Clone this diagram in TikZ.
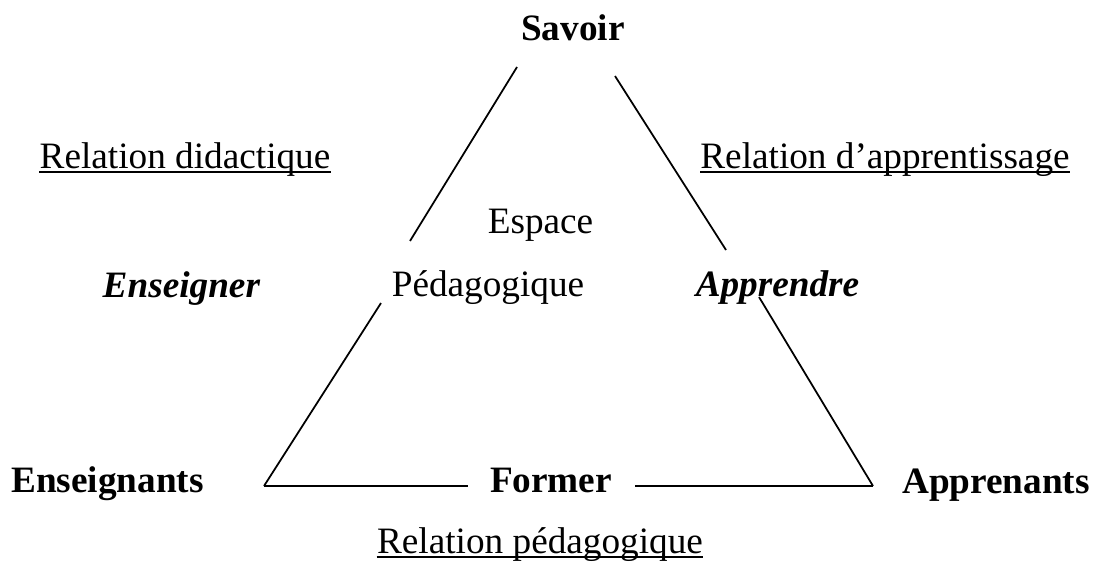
\documentclass[tikz,border=0pt]{standalone}
\usepackage{fontspec}
\setmainfont{Liberation Serif}
\usepackage{tikz}
\usetikzlibrary{calc}
\usetikzlibrary{positioning}
\tikzset{>=latex}
\tikzstyle{lbl} = [draw=none, inner sep = 0, anchor = base]
\tikzstyle{side} = [-, line width = 1pt]
\tikzstyle{uline} = [-, line width = 1.1pt]

\begin{document}
\begin{tikzpicture}[x=0.02cm, y=-0.02cm, font=\fontsize{21.2}{25}\selectfont]
\useasboundingbox (0, 0) rectangle (1097, 561);
\node [lbl] (S) at (573, 40) {\textbf{Savoir}};
\node [lbl] (RD) at (185, 168) {Relation didactique};
\node [lbl] (RA) at (885, 168) {Relation d’apprentissage};
\node [lbl] (Esp) at (540.5, 233) {Espace};
\node [lbl] (En) at (181.5, 297) {\textbf{\textit{Enseigner}}};
\node [lbl] (Ped) at (488, 296) {Pédagogique};
\node [lbl] (Ap) at (777.5, 296) {\textbf{\textit{Apprendre}}};
\node [lbl] (E) at (107.5, 492) {\textbf{Enseignants}};
\node [lbl] (F) at (551, 492) {\textbf{Former}};
\node [lbl] (A) at (996, 493) {\textbf{Apprenants}};
\node [lbl] (RP) at (540, 553) {Relation pédagogique};
% corners and gaps of the triangle
\coordinate (cE) at (264, 486);
\coordinate (cA) at (873, 486);
\coordinate (l1) at (517, 67);
\coordinate (l2) at (410, 241);
\coordinate (l3) at (381, 303);
\coordinate (r1) at (615, 76);
\coordinate (r2) at (726, 250);
\coordinate (r3) at (759, 297);
\coordinate (b1) at (468, 486);
\coordinate (b2) at (635, 486);
\draw [side] (l1) to (l2);
\draw [side] (l3) to (cE);
\draw [side] (cE) to (b1);
\draw [side] (b2) to (cA);
\draw [side] (cA) to (r3);
\draw [side] (r2) to (r1);
% underlines
\draw [uline] ($(RD.base west)+(0, 4)$) to ($(RD.base east)+(0, 4)$);
\draw [uline] ($(RA.base west)+(0, 4)$) to ($(RA.base east)+(0, 4)$);
\draw [uline] ($(RP.base west)+(0, 4)$) to ($(RP.base east)+(0, 4)$);
\end{tikzpicture}
\end{document}
